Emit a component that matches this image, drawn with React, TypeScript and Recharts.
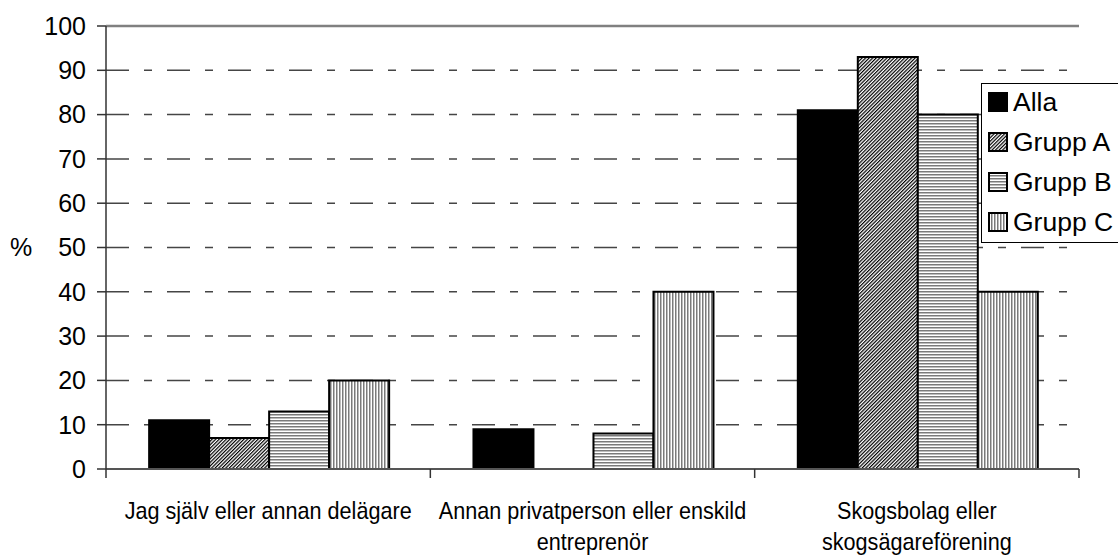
import React from "react";
import { BarChart, Bar, XAxis, YAxis, CartesianGrid, ReferenceLine, Legend } from "recharts";

const categories = [
  "Jag själv eller annan delägare",
  "Annan privatperson eller enskild\nentreprenör",
  "Skogsbolag eller\nskogsägareförening",
];
const alla = [11, 9, 81];
const gruppA = [7, 0, 93];
const gruppB = [13, 8, 80];
const gruppC = [20, 40, 40];
const yTicks = [0, 10, 20, 30, 40, 50, 60, 70, 80, 90, 100];
const seriesNames = ["Alla", "Grupp A", "Grupp B", "Grupp C"];
const seriesKeys = ["alla", "gruppA", "gruppB", "gruppC"];
const seriesFills = ["#000000", "url(#patA)", "url(#patB)", "url(#patC)"];

const data = categories.map((name, i) => ({
  name,
  alla: alla[i],
  gruppA: gruppA[i],
  gruppB: gruppB[i],
  gruppC: gruppC[i],
}));

const FONT = "'Liberation Sans', Arial, sans-serif";
const W = 1118;
const H = 556;
const MARGIN = { top: 26, right: 39, bottom: 0, left: 0 };
const Y_AXIS_W = 106;
const X_AXIS_H = 87;
const FALLBACK_HALF_BAND = (W - MARGIN.right - Y_AXIS_W) / categories.length / 2;

function XTick(props: any) {
  const { x, y, payload, index } = props;
  const half = payload && typeof payload.offset === "number" && payload.offset > 0 ? payload.offset : FALLBACK_HALF_BAND;
  const lines = String(payload.value).split("\n");
  return (
    <g>
      <line x1={x - half} x2={x - half} y1={y} y2={y + 9} stroke="#333" strokeWidth={1.5} />
      {index === categories.length - 1 && (
        <line x1={x + half} x2={x + half} y1={y} y2={y + 9} stroke="#333" strokeWidth={1.5} />
      )}
      <g transform={`translate(${x},${y})`}>
        <text transform="scale(0.9,1)" textAnchor="middle" fontSize={24} fontFamily={FONT} fill="#000">
          {lines.map((l, i) => (
            <tspan key={i} x={0} y={50 + i * 31}>
              {l}
            </tspan>
          ))}
        </text>
      </g>
    </g>
  );
}

function LegendBox() {
  return (
    <div
      style={{
        width: 150,
        height: 160,
        border: "1px solid #000",
        background: "#fff",
        boxSizing: "border-box",
        position: "relative",
        fontFamily: FONT,
      }}
    >
      {seriesNames.map((n, i) => (
        <div
          key={n}
          style={{
            position: "absolute",
            left: 6,
            top: 40 * i - 2,
            height: 40,
            display: "flex",
            alignItems: "center",
            whiteSpace: "nowrap",
          }}
        >
          <svg width={20} height={20} style={{ display: "block" }}>
            <rect x={1} y={1} width={18} height={18} fill={seriesFills[i]} stroke="#000" strokeWidth={2} />
          </svg>
          <span style={{ marginLeft: 5, fontSize: 26.5, lineHeight: "40px", color: "#000" }}>{n}</span>
        </div>
      ))}
    </div>
  );
}

export default function App() {
  return (
    <div style={{ position: "absolute", left: 0, top: 0, width: W, height: H, overflow: "hidden", background: "#fff" }}>
      <svg width={0} height={0} style={{ position: "absolute" }}>
        <defs>
          <pattern id="patA" width={2.5} height={2.5} patternUnits="userSpaceOnUse" patternTransform="rotate(45)">
            <rect width={2.5} height={2.5} fill="#fff" />
            <rect width={1.2} height={2.5} fill="#000" />
          </pattern>
          <pattern id="patB" width={3} height={3} patternUnits="userSpaceOnUse">
            <rect width={3} height={3} fill="#fff" />
            <rect width={3} height={1.5} fill="#7a7a7a" />
          </pattern>
          <pattern id="patC" width={3} height={3} patternUnits="userSpaceOnUse">
            <rect width={3} height={3} fill="#fff" />
            <rect width={1.5} height={3} fill="#7a7a7a" />
          </pattern>
        </defs>
      </svg>
      <BarChart width={W} height={H} data={data} margin={MARGIN} barCategoryGap="13.3%" barGap={0}>
        <CartesianGrid
          vertical={false}
          horizontal={true}
          stroke="#454545"
          strokeWidth={1.5}
          strokeDasharray="23 15 8 15"
        />
        <XAxis
          dataKey="name"
          height={X_AXIS_H}
          interval={0}
          tickLine={false}
          tickSize={0}
          tickMargin={0}
          axisLine={{ stroke: "#555", strokeWidth: 2 }}
          tick={(p: any) => <XTick {...p} />}
        />
        <YAxis
          domain={[0, 100]}
          ticks={yTicks}
          interval={0}
          width={Y_AXIS_W}
          tickSize={9}
          tickMargin={11}
          axisLine={{ stroke: "#333", strokeWidth: 1.5 }}
          tickLine={{ stroke: "#333", strokeWidth: 1.5 }}
          tick={{ fontSize: 25, fill: "#000", fontFamily: FONT }}
          label={{ value: "%", position: "insideLeft", offset: 10, style: { fontSize: 25, fill: "#000", fontFamily: FONT } }}
        />
        <YAxis
          yAxisId="right"
          orientation="right"
          width={0}
          domain={[0, 100]}
          tick={false}
          tickLine={false}
          axisLine={{ stroke: "#808080", strokeWidth: 2.5 }}
        />
        <ReferenceLine y={100} stroke="#808080" strokeWidth={2.5} />
        {seriesKeys.map((k, i) => (
          <Bar
            key={k}
            dataKey={k}
            name={seriesNames[i]}
            fill={seriesFills[i]}
            stroke="#000"
            strokeWidth={2}
            isAnimationActive={false}
          />
        ))}
        <Legend
          layout="vertical"
          align="center"
          verticalAlign="middle"
          content={() => <LegendBox />}
          wrapperStyle={{ position: "absolute", left: 981, top: 83, width: 150, height: 160 }}
        />
      </BarChart>
    </div>
  );
}
